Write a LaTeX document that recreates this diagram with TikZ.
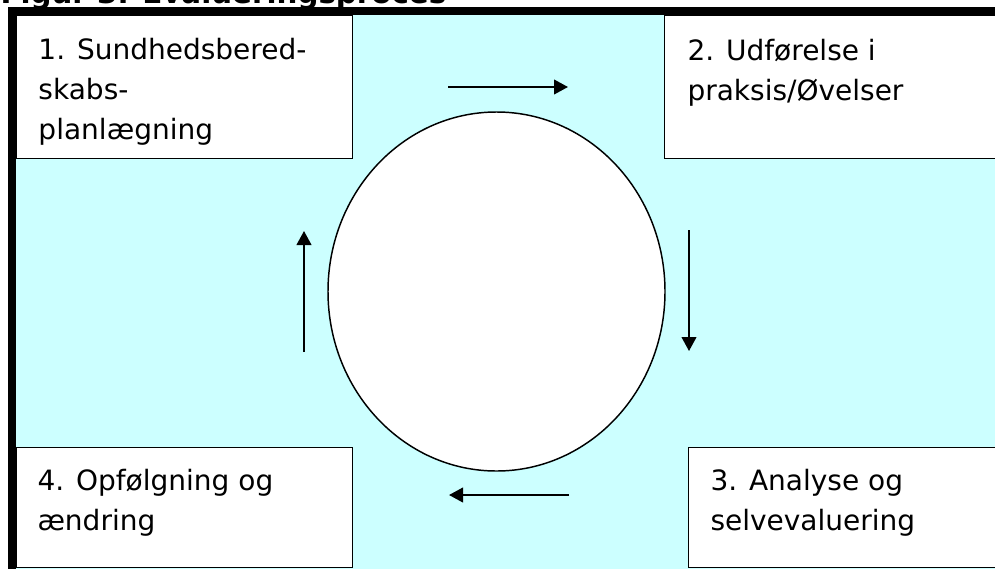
\documentclass[tikz,border=0pt]{standalone}
\usepackage{fontspec}
\newfontfamily\stagefont{DejaVu Sans}
\newfontfamily\captionfont{DejaVu Sans}
\usetikzlibrary{arrows.meta,shapes.geometric}
\definecolor{paleCyan}{RGB}{204,255,255}
\tikzset{every picture/.style={line width=0.75pt}}

\begin{document}
\begin{tikzpicture}[x=0.75pt,y=0.75pt,yscale=-1,xscale=1,
  stagebox/.style={draw, fill=white, line width=1pt, inner sep=0pt, anchor=north west},
  stagetext/.style={anchor=base west, inner sep=0pt, align=left, font=\stagefont\fontsize{21}{30}\selectfont},
  flow/.style={line width=1.5pt, -{Triangle[length=10.5pt,width=11pt]}}]
\useasboundingbox (0,0) rectangle (995,568);
\clip (0,0) rectangle (995,568);

% caption, cut by the top edge
\node [anchor=base west, inner sep=0pt, font=\captionfont\bfseries\fontsize{22}{24}\selectfont] (caption) at (0,3) {Figur 3. Evalueringsproces};

% background
\fill [paleCyan] (16,15) rectangle (1000,570);

% the four stages
\node [stagebox, minimum width=252pt, minimum height=107.25pt] (plan) at (16,15) {};
\node [stagebox, minimum width=252pt, minimum height=107.25pt] (practice) at (664,15) {};
\node [stagebox, minimum width=234pt, minimum height=90pt] (analysis) at (688,447) {};
\node [stagebox, minimum width=252pt, minimum height=90pt] (followup) at (16,447) {};

% texts sit on the baseline of their last line
\node [stagetext] (plantext) at (38,139) {1. Sundhedsbered-\\skabs-\\planlægning};
\node [stagetext] (practicetext) at (687,100) {2. Udførelse i\\praksis/Øvelser};
\node [stagetext] (analysistext) at (710,530) {3. Analyse og\\selvevaluering};
\node [stagetext] (followuptext) at (37,530) {4. Opfølgning og\\ændring};

% centre
\node [draw, ellipse, fill=white, line width=1.1pt, inner sep=0pt, minimum width=252.75pt, minimum height=269.25pt] (cycle) at (496.5,291.5) {};

% frame
\draw [line width=6pt] (12,600) -- (12,11) -- (1010,11);

% arrows round the circle
\coordinate (topstart) at (448,87);
\coordinate (topend) at (568,87);
\coordinate (rightstart) at (689,230);
\coordinate (rightend) at (689,351);
\coordinate (bottomstart) at (569,495);
\coordinate (bottomend) at (449,495);
\coordinate (leftstart) at (304,352);
\coordinate (leftend) at (304,231);
\draw [flow] (topstart) -- (topend);
\draw [flow] (rightstart) -- (rightend);
\draw [flow] (bottomstart) -- (bottomend);
\draw [flow] (leftstart) -- (leftend);

\end{tikzpicture}
\end{document}
